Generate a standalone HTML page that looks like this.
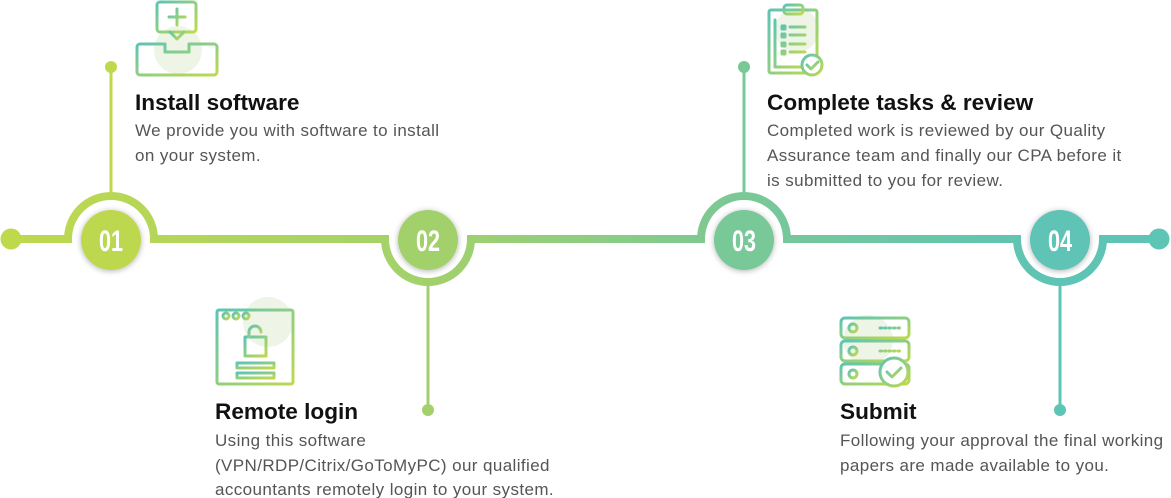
<!DOCTYPE html>
<html><head><meta charset="utf-8"><style>
html,body{margin:0;padding:0;background:#fff;width:1171px;height:498px;overflow:hidden}
svg{display:block}
.t{font-family:"Liberation Sans",sans-serif;font-weight:bold;font-size:22.6px;fill:#111}
.d{font-family:"Liberation Sans",sans-serif;font-size:17px;letter-spacing:0.4px;fill:#555}
.n{font-family:"Liberation Sans",sans-serif;font-size:30px;fill:#fff;font-weight:bold}
</style></head><body>
<svg width="1171" height="498" viewBox="0 0 1171 498" xmlns="http://www.w3.org/2000/svg">
<defs>
<linearGradient id="g" x1="0" x2="1171" y1="0" y2="0" gradientUnits="userSpaceOnUse">
<stop offset="0" stop-color="#bfd94d"/><stop offset="0.37" stop-color="#a2d16c"/><stop offset="0.64" stop-color="#79c897"/><stop offset="0.9" stop-color="#5ec4b5"/><stop offset="1" stop-color="#5ec4b5"/>
</linearGradient>
<linearGradient id="ig" x1="0" x2="1" y1="0" y2="1"><stop offset="0" stop-color="#5ec4b5"/><stop offset="1" stop-color="#bfd94d"/></linearGradient>
<filter id="sh" x="-30%" y="-30%" width="160%" height="160%"><feDropShadow dx="0" dy="1" stdDeviation="3" flood-color="#000" flood-opacity="0.3"/></filter>
</defs>
<path d="M11,239 H68 A43,43 0 0 1 154,239 H385 A43,43 0 0 0 471,239 H701 A43,43 0 0 1 787,239 H1017 A43,43 0 0 0 1103,239 H1159" fill="none" stroke="url(#g)" stroke-width="8"/>
<circle cx="11" cy="239" r="10.5" fill="#bfd94d"/>
<circle cx="1159" cy="239" r="10.5" fill="#5ec4b5"/>
<line x1="111" y1="67" x2="111" y2="196" stroke="#bfd94d" stroke-width="3"/><circle cx="111" cy="67" r="6" fill="#bfd94d"/>
<line x1="428" y1="282" x2="428" y2="410" stroke="#a2d16c" stroke-width="3"/><circle cx="428" cy="410" r="6" fill="#a2d16c"/>
<line x1="744" y1="67" x2="744" y2="196" stroke="#79c897" stroke-width="3"/><circle cx="744" cy="67" r="6" fill="#79c897"/>
<line x1="1060" y1="282" x2="1060" y2="410" stroke="#5ec4b5" stroke-width="3"/><circle cx="1060" cy="410" r="6" fill="#5ec4b5"/>
<g filter="url(#sh)">
<circle cx="111" cy="240" r="30" fill="#bdd850"/>
<circle cx="428" cy="240" r="30" fill="#a2d16c"/>
<circle cx="744" cy="240" r="30" fill="#78c898"/>
<circle cx="1060" cy="240" r="30" fill="#5ec4b5"/>
</g>
<g class="n" text-anchor="middle">
<text x="111" y="251" transform="translate(111 0) scale(0.72 1) translate(-111 0)">01</text>
<text x="428" y="251" transform="translate(428 0) scale(0.72 1) translate(-428 0)">02</text>
<text x="744" y="251" transform="translate(744 0) scale(0.72 1) translate(-744 0)">03</text>
<text x="1060" y="251" transform="translate(1060 0) scale(0.72 1) translate(-1060 0)">04</text>
</g>
<g fill="none" stroke="url(#ig)" stroke-width="3" stroke-linecap="round" stroke-linejoin="round">
<circle cx="178" cy="50" r="24" fill="#eef5e6" stroke="none"/>
<rect x="157" y="2" width="39" height="30" rx="3"/><path d="M177,9 v16 M169,17 h16"/><path d="M170,32 l7,7 l7,-7"/>
<path d="M165,44 h-25 a3,3 0 0 0 -3,3 v25 a3,3 0 0 0 3,3 h74 a3,3 0 0 0 3,-3 v-25 a3,3 0 0 0 -3,-3 h-25 v8 h-24 z"/><path d="M137,64 h17 M201,64 h16"/>
<circle cx="797" cy="30" r="22" fill="#eef5e6" stroke="none"/>
<rect x="769" y="10" width="48" height="63" rx="2"/><rect x="784" y="5" width="19" height="9" rx="3"/><path d="M775,20 v47 h30"/>
<path d="M782,26h3v3h-3z M782,34h3v3h-3z M782,43h3v3h-3z M782,51h3v3h-3z M790,27h15 M790,35h15 M790,44h15 M790,52h15"/>
<circle cx="812" cy="65" r="10" fill="#fff"/><path d="M807,65 l4,4 l7,-7"/>
<circle cx="268" cy="322" r="25" fill="#eef5e6" stroke="none"/>
<rect x="217" y="310" width="76" height="74" rx="2"/><path d="M217,323 h76"/><circle cx="226" cy="316" r="3"/><circle cx="236" cy="316" r="3"/><circle cx="246" cy="316" r="3"/><path d="M260,316h20 M285,316h3"/>
<rect x="245" y="337" width="21" height="19"/><path d="M249,337 v-5 a6,6 0 0 1 12,0"/><path d="M255,345 v5"/>
<rect x="237" y="363" width="37" height="5"/><rect x="237" y="373" width="37" height="5"/>
<circle cx="868" cy="340" r="25" fill="#eef5e6" stroke="none"/>
<rect x="841" y="318" width="68" height="20" rx="4"/><rect x="841" y="341" width="68" height="20" rx="4"/><rect x="841" y="364" width="68" height="20" rx="4"/>
<circle cx="853" cy="328" r="4"/><circle cx="853" cy="351" r="4"/><circle cx="853" cy="374" r="4"/>
<path d="M880,328h22 M880,351h22" stroke-dasharray="1.5 3"/>
<circle cx="894" cy="372" r="14" fill="#fff"/><path d="M887,372 l5,5 l9,-9"/>
</g>
<text class="t" x="135" y="110">Install software</text>
<text class="d" x="135" y="136">We provide you with software to install</text>
<text class="d" x="135" y="161">on your system.</text>
<text class="t" x="767" y="110">Complete tasks &amp; review</text>
<text class="d" x="767" y="136">Completed work is reviewed by our Quality</text>
<text class="d" x="767" y="161">Assurance team and finally our CPA before it</text>
<text class="d" x="767" y="186">is submitted to you for review.</text>
<text class="t" x="215" y="419">Remote login</text>
<text class="d" x="215" y="446">Using this software</text>
<text class="d" x="215" y="471">(VPN/RDP/Citrix/GoToMyPC) our qualified</text>
<text class="d" x="215" y="495">accountants remotely login to your system.</text>
<text class="t" x="840" y="419">Submit</text>
<text class="d" x="840" y="446">Following your approval the final working</text>
<text class="d" x="840" y="471">papers are made available to you.</text>
</svg>
</body></html>
